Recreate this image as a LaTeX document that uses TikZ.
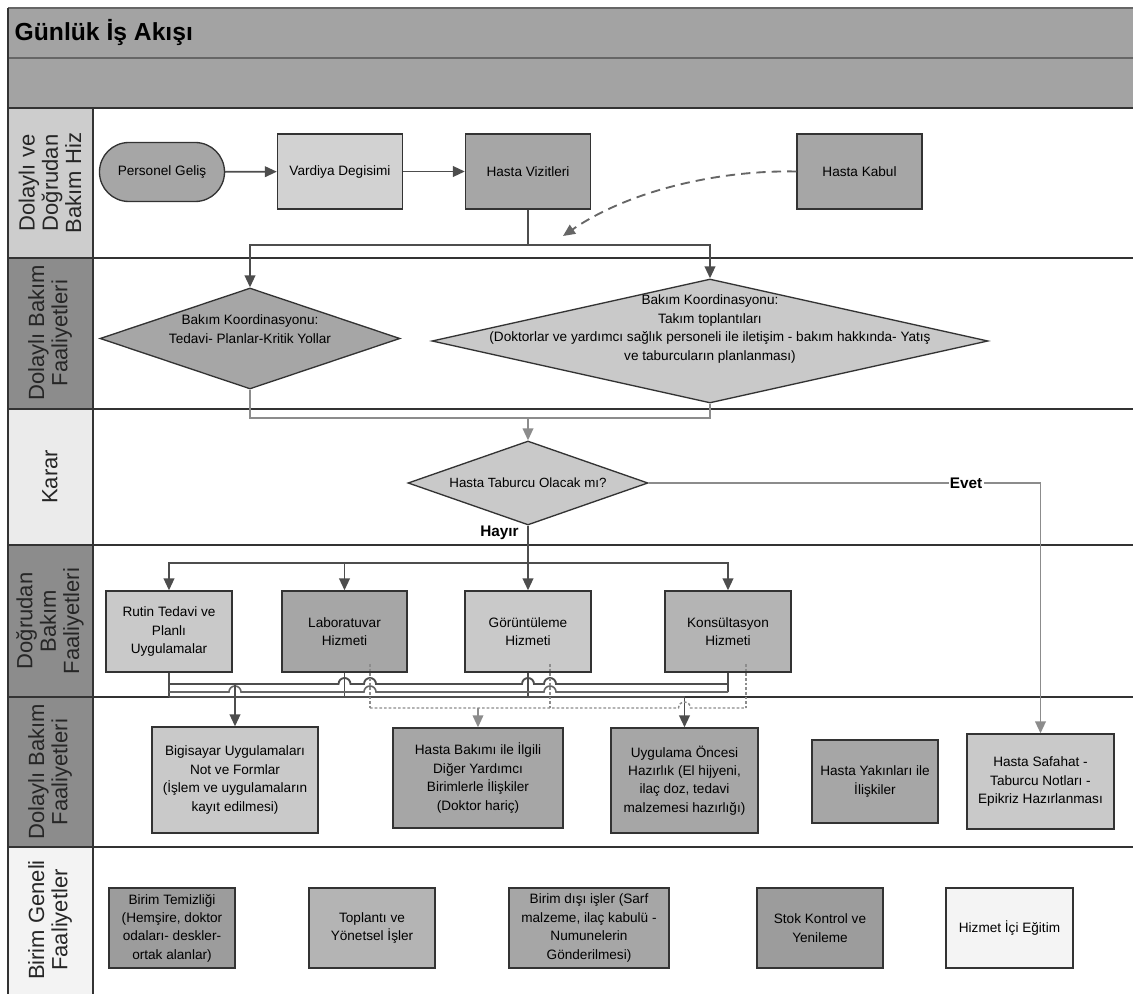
\documentclass[tikz,border=0pt]{standalone}
\usepackage{fontspec}
\setmainfont{Liberation Sans}
\usetikzlibrary{shapes.geometric,arrows.meta}
\definecolor{hdr}{HTML}{A3A3A3}
\definecolor{lnlight}{HTML}{CDCDCD}
\definecolor{lndark}{HTML}{8C8C8C}
\definecolor{lnpale}{HTML}{EBEBEB}
\definecolor{lnwhite}{HTML}{F3F3F3}
\definecolor{edgec}{HTML}{333333}
\definecolor{connd}{HTML}{4D4D4D}
\definecolor{connm}{HTML}{666666}
\definecolor{connl}{HTML}{8C8C8C}
\definecolor{fA}{HTML}{A6A6A6}
\definecolor{fB}{HTML}{C9C9C9}
\definecolor{fC}{HTML}{B4B4B4}
\definecolor{fD}{HTML}{9C9C9C}
\definecolor{fE}{HTML}{F4F4F4}
\definecolor{fF}{HTML}{D2D2D2}
\begin{document}
\begin{tikzpicture}[x=0.75pt,y=-0.75pt,
  wh/.style 2 args={minimum width=#1*0.75pt, minimum height=#2*0.75pt},
  box/.style={draw=edgec, line width=1pt, rectangle, align=center, inner sep=0pt,
    font=\fontsize{10.2}{13.8}\selectfont},
  dia/.style={draw=edgec, line width=1pt, diamond, inner sep=0pt},
  diatext/.style={align=center, font=\fontsize{10.2}{13.8}\selectfont},
  lanesep/.style={draw=edgec, line width=1.2pt},
  lanetxt/.style={rotate=90, align=center, text=black!85, font=\fontsize{16.5}{17.5}\selectfont},
  conn/.style={draw=connd, line width=1.4pt},
  connlow/.style={draw=connm, line width=1.2pt},
  connlt/.style={draw=connl, line width=1.3pt},
  arr/.style={conn, -{Triangle[length=9pt,width=8pt]}},
  arrlt/.style={connlt, -{Triangle[length=9pt,width=8pt]}},
  dsh/.style={draw=connl, line width=1.1pt, dash pattern=on 2pt off 1.5pt},
  lblbold/.style={font=\bfseries\fontsize{11.5}{13}\selectfont}
]
\useasboundingbox (0,0) rectangle (1133,994);

% ---------- header and lanes ----------
\fill[hdr] (8,8) rectangle (1133,108);
\fill[lnlight] (8,108) rectangle (93,258);
\fill[lndark] (8,258) rectangle (93,409);
\fill[lnpale] (8,409) rectangle (93,545);
\fill[lndark] (8,545) rectangle (93,697);
\fill[lndark] (8,697) rectangle (93,847);
\fill[lnwhite] (8,847) rectangle (93,994);
\draw[draw=connm, line width=1pt] (8,8) -- (1133,8);
\draw[draw=connm, line width=1pt] (8,58) -- (1133,58);
\draw[lanesep] (8,108) -- (1133,108);
\draw[lanesep] (8,258) -- (1133,258);
\draw[lanesep] (8,409) -- (1133,409);
\draw[lanesep, line width=1.8pt] (8,545) -- (1133,545);
\draw[lanesep] (8,697) -- (1133,697);
\draw[lanesep, line width=1.6pt] (8,847) -- (1133,847);
\draw[lanesep] (8,8) -- (8,994);
\draw[lanesep] (93,108) -- (93,994);

\node[anchor=west, font=\bfseries\fontsize{18.5}{21}\selectfont] (title) at (10,33) {Günlük İş Akışı};

\node[lanetxt] (L1) at (50,183) {Dolaylı ve\\Doğrudan\\Bakım Hiz};
\node[lanetxt] (L2) at (50,333) {Dolaylı Bakım\\Faaliyetleri};
\node[lanetxt] (L3) at (50,477) {Karar};
\node[lanetxt] (L4) at (50,621) {Doğrudan\\Bakım\\Faaliyetleri};
\node[lanetxt] (L5) at (50,772) {Dolaylı Bakım\\Faaliyetleri};
\node[lanetxt] (L6) at (50,920) {Birim Geneli\\Faaliyetler};

% ---------- lane 1 ----------
\node[box, fill=fA, wh={125}{59}, rounded corners=22pt] (pg) at (162,172) {Personel Geliş};
\node[box, fill=fF, wh={125}{75}] (vd) at (340,171.5) {Vardiya Degisimi};
\node[box, fill=fA, wh={125}{75}] (hv) at (528,171.5) {Hasta Vizitleri};
\node[box, fill=fA, wh={125}{75}] (hk) at (859.5,171.5) {Hasta Kabul};
\coordinate (dashend) at (563,236);
\coordinate (j1) at (528,245);

\draw[arr] (pg) -- (vd);
\draw[arr] (vd) -- (hv);
\draw[arr, draw=connm, dash pattern=on 7pt off 4.5pt] (hk.west) .. controls (720,170) and (630,190) .. (dashend);

% ---------- lane 2 ----------
\node[dia, fill=fA, wh={300}{101}] (d1) at (250,338.5) {};
\node[diatext] (d1t) at (250,329) {Bakım Koordinasyonu:\\Tedavi- Planlar-Kritik Yollar};
\node[dia, fill=fB, wh={556}{124}] (d2) at (710,341) {};
\node[diatext] (d2t) at (710,329) {Bakım Koordinasyonu:\\Takım toplantıları\\(Doktorlar ve yardımcı sağlık personeli ile iletişim - bakım hakkında- Yatış\\ve taburcuların planlanması)};

\draw[conn] (hv.south) -- (j1);
\draw[arr] (j1) -| (d1.north);
\draw[arr] (j1) -| (d2.north);

% ---------- lane 3 ----------
\node[dia, fill=fB, wh={240}{84}] (kd) at (528,483) {};
\node[diatext, font=\fontsize{10}{12}\selectfont] (kdt) at (528,483) {Hasta Taburcu Olacak mı?};
\coordinate (j2) at (528,418);
\draw[connlt] (d1.south) |- (j2);
\draw[connlt] (d2.south) |- (j2);
\draw[arrlt] (j2) -- (kd.north);

% ---------- lane 4 ----------
\node[box, fill=fB, wh={126}{81}] (rt) at (169,631.5) {Rutin Tedavi ve\\Planlı\\Uygulamalar};
\node[box, fill=fA, wh={125}{81}] (lab) at (344.5,631.5) {Laboratuvar\\Hizmeti};
\node[box, fill=fB, wh={126}{81}] (gor) at (528,631.5) {Görüntüleme\\Hizmeti};
\node[box, fill=fC, wh={126}{81}] (kon) at (728,631.5) {Konsültasyon\\Hizmeti};
\coordinate (j3) at (528,563);

\draw[conn] (kd.south) -- (j3) node[pos=0.2, left=3pt, lblbold] (hayir) {Hayır};
\draw[arr] (j3) -| (rt.north);
\draw[arr] (j3) -| (lab.north);
\draw[arr] (j3) -- (gor.north);
\draw[arr] (j3) -| (kon.north);

% ---------- lane 5 ----------
\node[box, fill=fB, wh={166}{106}] (bg) at (235,780) {Bigisayar Uygulamaları\\Not ve Formlar\\(İşlem ve uygulamaların\\kayıt edilmesi)};
\node[box, fill=fA, wh={170}{100}] (hb) at (478,778) {Hasta Bakımı ile İlgili\\Diğer Yardımcı\\Birimlerle İlişkiler\\(Doktor hariç)};
\node[box, fill=fA, wh={147}{105}] (uo) at (684.5,780.5) {Uygulama Öncesi\\Hazırlık (El hijyeni,\\ilaç doz, tedavi\\malzemesi hazırlığı)};
\node[box, fill=fA, wh={126}{83}] (hy) at (875,781.5) {Hasta Yakınları ile\\İlişkiler};
\node[box, fill=fB, wh={147}{95}] (hs) at (1040.5,781.5) {Hasta Safahat -\\Taburcu Notları -\\Epikriz Hazırlanması};

\draw[arrlt] (kd.east) -| (hs.north) node[pos=0.405, fill=white, inner sep=1pt, lblbold] (evet) {Evet};

% collector lines under lane-4 boxes
\draw[conn] (rt.south) -- (169,697);
\draw[conn] (lab.south) -- (344.5,697);
\draw[conn] (gor.south) -- (528,697);
\draw[conn] (kon.south) -- (728,692);
% upper line (to Bigisayar)
\draw[conn] (169,684) -- (338.5,684) arc[start angle=180,end angle=0,radius=4.5pt]
  -- (364,684) arc[start angle=180,end angle=0,radius=4.5pt]
  -- (522,684) arc[start angle=180,end angle=0,radius=4.5pt]
  -- (544,684) arc[start angle=180,end angle=0,radius=4.5pt]
  -- (728,684);
% lower line (to Uygulama Oncesi)
\draw[connlow] (169,692) -- (229,692) arc[start angle=180,end angle=0,radius=4.5pt]
  -- (364,692) arc[start angle=180,end angle=0,radius=4.5pt]
  -- (544,692) arc[start angle=180,end angle=0,radius=4.5pt]
  -- (728,692);
\draw[conn] (169,697) -- (684.5,697);
\draw[arr] (235,684) -- (bg.north);
\draw[arr] (684.5,697) -- (uo.north);
% dashed lines (to Hasta Bakimi)
\draw[dsh] (370,664) -- (370,708);
\draw[dsh] (550,664) -- (550,708);
\draw[dsh] (746,664) -- (746,708);
\draw[dsh] (370,708) -- (678.5,708) arc[start angle=180,end angle=0,radius=4.5pt] -- (746,708);
\draw[dsh, solid, draw=connl, -{Triangle[length=9pt,width=8pt]}] (478,708) -- (hb.north);

% ---------- lane 6 ----------
\node[box, fill=fD, wh={126}{80}] (bt) at (172,928) {Birim Temizliği\\(Hemşire, doktor\\odaları- deskler-\\ortak alanlar)};
\node[box, fill=fC, wh={126}{80}] (tp) at (372,928) {Toplantı ve\\Yönetsel İşler};
\node[box, fill=fA, wh={160}{80}] (bd) at (589,928) {Birim dışı işler (Sarf\\malzeme, ilaç kabulü -\\Numunelerin\\Gönderilmesi)};
\node[box, fill=fD, wh={126}{80}] (sk) at (820,928) {Stok Kontrol ve\\Yenileme};
\node[box, fill=fE, wh={127}{80}] (he) at (1009.5,928) {Hizmet İçi Eğitim};
\end{tikzpicture}
\end{document}
